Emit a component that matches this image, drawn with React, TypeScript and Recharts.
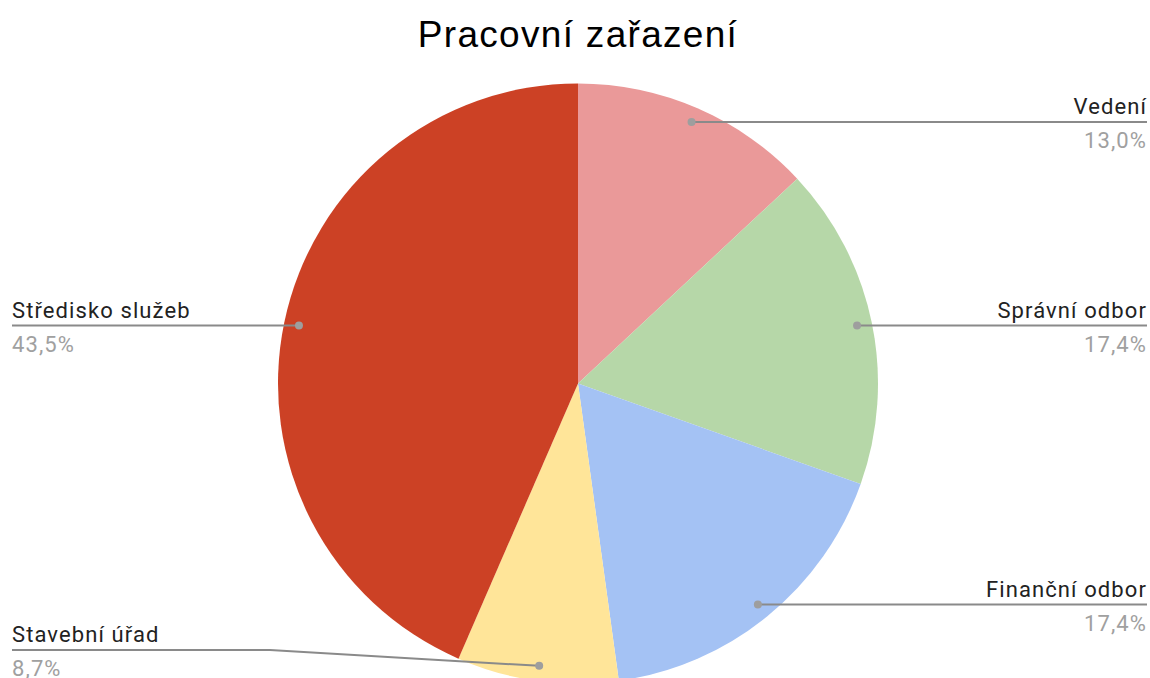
import { PieChart, Pie, Cell } from "recharts";

const categories = ["Vedení", "Správní odbor", "Finanční odbor", "Stavební úřad", "Středisko služeb"];
const counts = [3, 4, 4, 2, 10];
const colors = ["#ea9999", "#b6d7a8", "#a4c2f4", "#ffe599", "#cc4125"];

const WIDTH = 1150;
const HEIGHT = 678;
const RAD = Math.PI / 180;

const data = categories.map((name, i) => ({ name, value: counts[i] }));

const renderLabel = (props: any) => {
	const { cx, cy, midAngle, outerRadius, percent, name } = props;
	// dot sits just inside the slice edge
	const r = outerRadius * 0.95;
	const dx = cx + r * Math.cos(-midAngle * RAD);
	const dy = cy + r * Math.sin(-midAngle * RAD);
	const right = dx > cx;
	// keep label inside the canvas
	const ly = Math.min(dy, HEIGHT - 28);
	const tx = right ? WIDTH - 3 : 12;
	const anchor = right ? "end" : "start";
	const pct = (percent * 100).toFixed(1).replace(".", ",") + "%";
	let points = `${tx},${ly} ${dx},${dy}`;
	if (Math.abs(ly - dy) > 0.5) {
		const bend = right ? cx + outerRadius + 8 : cx - outerRadius - 8;
		points = `${tx},${ly} ${bend},${ly} ${dx},${dy}`;
	}
	return (
		<g>
			<polyline points={points} fill="none" stroke="#8a8a8a" strokeWidth={2} />
			<circle cx={dx} cy={dy} r={4} fill="#9e9e9e" />
			<text x={tx} y={ly - 8} textAnchor={anchor} fill="#222222" fontSize={22} letterSpacing={1.1} fontFamily="Roboto, sans-serif">
				{name}
			</text>
			<text x={tx} y={ly + 26} textAnchor={anchor} fill="#a0a0a0" fontSize={22} letterSpacing={1.1} fontFamily="Roboto, sans-serif">
				{pct}
			</text>
		</g>
	);
};

export default function App() {
	return (
		<div style={{ position: "absolute", left: 0, top: 0, width: WIDTH, height: HEIGHT, background: "#fff" }}>
			<style>{"body{margin:0}"}</style>
			<PieChart width={WIDTH} height={HEIGHT} margin={{ top: 0, right: 0, bottom: 0, left: 0 }}>
				<text x={578} y={47} textAnchor="middle" fontSize={37} letterSpacing={1.3} fontFamily="'Liberation Sans', Arial, sans-serif" fill="#000">
					Pracovní zařazení
				</text>
				<Pie
					data={data}
					dataKey="value"
					nameKey="name"
					cx={578}
					cy={383.5}
					outerRadius={300}
					startAngle={90}
					endAngle={-270}
					stroke="none"
					label={renderLabel}
					labelLine={false}
					isAnimationActive={false}
				>
					{data.map((d, i) => (
						<Cell key={d.name} fill={colors[i]} />
					))}
				</Pie>
			</PieChart>
		</div>
	);
}
